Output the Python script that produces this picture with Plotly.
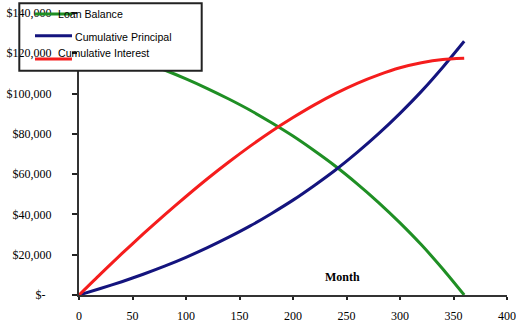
import plotly.graph_objects as go

# Amortization schedule, sampled every 20 months
months = [0, 20, 40, 60, 80, 100, 120, 140, 160, 180, 200, 220, 240, 260, 280, 300, 320, 340, 360]
loan_balance = [126000, 122800, 119400, 115700, 111700, 107300, 102500, 97300, 91700, 85500,
                78900, 71600, 63800, 55200, 45900, 35800, 24900, 12900, 0]
cum_principal = [0, 3200, 6600, 10300, 14300, 18700, 23500, 28700, 34300, 40500,
                 47100, 54400, 62200, 70800, 80100, 90200, 101100, 113100, 126000]
cum_interest = [0, 10400, 20500, 30300, 39800, 48900, 57700, 66000, 73900, 81300,
                88100, 94400, 100100, 105100, 109300, 112800, 115300, 116900, 117500]

y_tickvals = [0, 20000, 40000, 60000, 80000, 100000, 120000, 140000]
y_ticktext = ["$-  ", "$20,000", "$40,000", "$60,000", "$80,000", "$100,000", "$120,000", "$140,000"]
x_tickvals = [0, 50, 100, 150, 200, 250, 300, 350, 400]

GREEN = "#1f8f24"
NAVY = "#14147e"
RED = "#f51d1d"

series = [
    ("Loan Balance", loan_balance, GREEN),
    ("Cumulative Principal", cum_principal, NAVY),
    ("Cumulative Interest", cum_interest, RED),
]

fig = go.Figure()
for name, vals, col in series:
    fig.add_trace(go.Scatter(x=months, y=vals, name=name, mode="lines",
                             line=dict(color=col, width=3, shape="spline", smoothing=0.6)))

W, H = 516, 329
L, R, T, B = 79, 9, 13, 34
pw, ph = W - L - R, H - T - B


def px(xp):
    return (xp - L) / pw


def py(yp):
    return (H - B - yp) / ph


shapes = [
    # white legend panel over the plot area
    dict(type="rect", xref="paper", yref="paper", x0=px(77), x1=px(201.7), y0=py(70.7), y1=py(3.3),
         fillcolor="white", line=dict(width=0), layer="above"),
    # legend frame
    dict(type="rect", xref="paper", yref="paper", x0=px(19.3), x1=px(201.7), y0=py(70.7), y1=py(3.3),
         fillcolor="rgba(0,0,0,0)", line=dict(color="#222222", width=2), layer="above"),
]
legend_rows = [(GREEN, 14, 14, 56, "Loan Balance"),
               (NAVY, 35.7, 37.3, 73, "Cumulative Principal"),
               (RED, 59, 53.3, 56, "Cumulative Interest")]
annotations = []
for col, ly, ty, tx, label in legend_rows:
    shapes.append(dict(type="line", xref="paper", yref="paper", x0=px(35), x1=px(72), y0=py(ly), y1=py(ly),
                       line=dict(color=col, width=3), layer="above"))
    annotations.append(dict(xref="paper", yref="paper", x=px(tx), y=py(ty), text=label, showarrow=False,
                            xanchor="left", yanchor="middle",
                            font=dict(family="Liberation Sans", size=10.6, color="black")))

annotations.append(dict(xref="paper", yref="paper", x=px(342), y=py(276.7), text="<b>Month</b>",
                        showarrow=False, xanchor="center", yanchor="middle",
                        font=dict(family="Liberation Serif", size=12, color="black")))

serif = dict(family="Liberation Serif", size=12, color="black")

fig.update_layout(
    width=W, height=H,
    margin=dict(l=L, r=R, t=T, b=B, pad=0),
    paper_bgcolor="white", plot_bgcolor="white",
    showlegend=False,
    shapes=shapes, annotations=annotations,
    xaxis=dict(range=[0, 400], tickvals=x_tickvals, ticks="outside", ticklen=3, tickwidth=2,
               tickcolor="#222222", showline=True, linecolor="#333333", linewidth=2,
               showgrid=False, zeroline=False, tickfont=serif, ticklabelstandoff=6, automargin=False),
    yaxis=dict(range=[0, 140000], tickvals=y_tickvals, ticktext=y_ticktext, ticks="outside", ticklen=5,
               tickwidth=2, tickcolor="#222222", showline=True, linecolor="#333333", linewidth=2,
               showgrid=False, zeroline=False, tickfont=serif, ticklabelstandoff=18, automargin=False),
)

fig.write_html("out.html")
